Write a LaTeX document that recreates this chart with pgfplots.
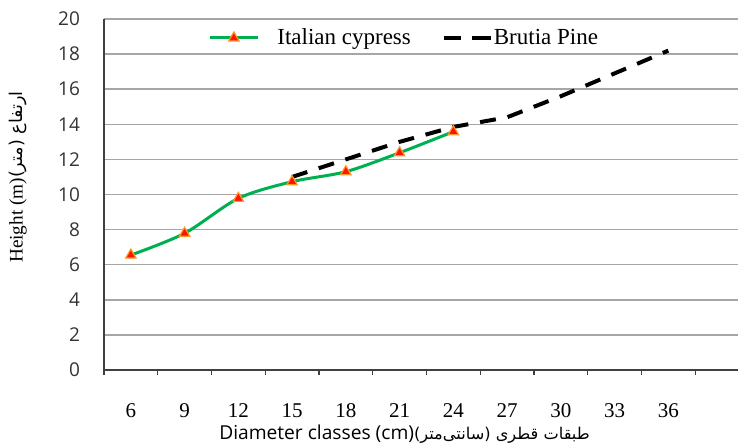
\documentclass[border=0pt]{standalone}
\usepackage{pgfplots}
\pgfplotsset{compat=1.18}
\usepackage{fontspec}
\setmainfont{Liberation Serif}
\newfontfamily\sansf{Open Sans}
\newfontfamily\arabicfont[Script=Arabic]{DejaVu Sans}
\TeXXeTstate=1
\definecolor{cgreen}{RGB}{0,176,80}
\definecolor{cred}{RGB}{255,20,0}
\definecolor{corange}{RGB}{255,150,40}
\definecolor{cgrid}{RGB}{166,166,166}
\definecolor{caxis}{RGB}{64,64,64}
\pgfplotsset{
  cyplegend/.style={legend image code/.code={\draw[mark repeat=2,mark phase=2,##1] plot coordinates {(0pt,0pt) (12pt,0pt) (24pt,0pt)}; \path (31pt,0pt);}},
  pinelegend/.style={legend image code/.code={\draw[overlay, ##1, dash pattern=on 8.5pt off 6.5pt] (0pt,0pt) -- (23.5pt,0pt); \path (0pt,0pt) -- (22pt,0pt);}},
}
\begin{document}
\begin{tikzpicture}
\begin{axis}[
  name=ax,
  scale only axis,
  width=317pt, height=175.5pt,
  xmin=4.5, xmax=39.89,
  ymin=0, ymax=20,
  axis x line*=bottom, axis y line*=left,
  axis line style={caxis, line width=0.9pt},
  xtick={6,9,...,36},
  minor xtick={4.5,7.5,...,37.5},
  ytick={0,2,...,20},
  major tick length=0pt,
  minor tick length=2.5pt,
  tick align=outside,
  minor tick style={caxis, line width=0.6pt},
  ymajorgrids,
  grid style={cgrid, line width=0.75pt},
  /pgf/number format/assume math mode=true,
  xticklabel style={font=\fontsize{10.5}{10.5}\selectfont, anchor=base, text height=7pt, text depth=0pt, yshift=-23.5pt},
  yticklabel style={font=\sansf\fontsize{9.5}{9.5}\selectfont, text=black!80, xshift=-8.5pt},
  xlabel={{\sansf\fontsize{9.6}{9.6}\selectfont Diameter classes (cm)}{\arabicfont\fontsize{8.1}{8.1}\selectfont\beginR طبقات قطری (سانتی‌متر)\endR}},
  xlabel style={at={(axis description cs:0.474,0)}, anchor=center, yshift=-32pt},
  ylabel={Height (m){\arabicfont\fontsize{8.8}{8.8}\selectfont\beginR ارتفاع (متر)\endR}},
  ylabel style={font=\fontsize{9.6}{9.6}\selectfont, at={(axis description cs:-0.1356,0.55)}, anchor=center},
  legend style={at={(axis cs:9.97,18.92)}, anchor=west, draw=none, fill=none,
    font=\fontsize{11.5}{11.5}\selectfont, legend columns=2,
    /tikz/every even column/.append style={column sep=13.5pt}},
]
\addplot[cgreen, line width=1.5pt, smooth, tension=0.5,
  mark=triangle*, mark size=3pt, mark options={fill=cred, draw=corange, line width=0.6pt, solid},
  cyplegend]
coordinates {(6,6.55) (9,7.79) (12,9.78) (15,10.73) (18,11.30) (21,12.38) (24,13.58)};
\addlegendentry{Italian cypress}
\addplot[black, line width=2pt, dash pattern=on 8pt off 6pt, pinelegend]
coordinates {(15,11.0) (18,12.0) (21,13.0) (24,13.85) (27,14.4) (30,15.6) (33,16.9) (36,18.2)};
\addlegendentry{Brutia Pine}
\end{axis}
\pgfresetboundingbox
\path[use as bounding box] ([shift={(-52pt,-37.5pt)}]ax.south west) rectangle ([shift={(317pt,185pt)}]ax.south west);
\end{tikzpicture}
\end{document}
